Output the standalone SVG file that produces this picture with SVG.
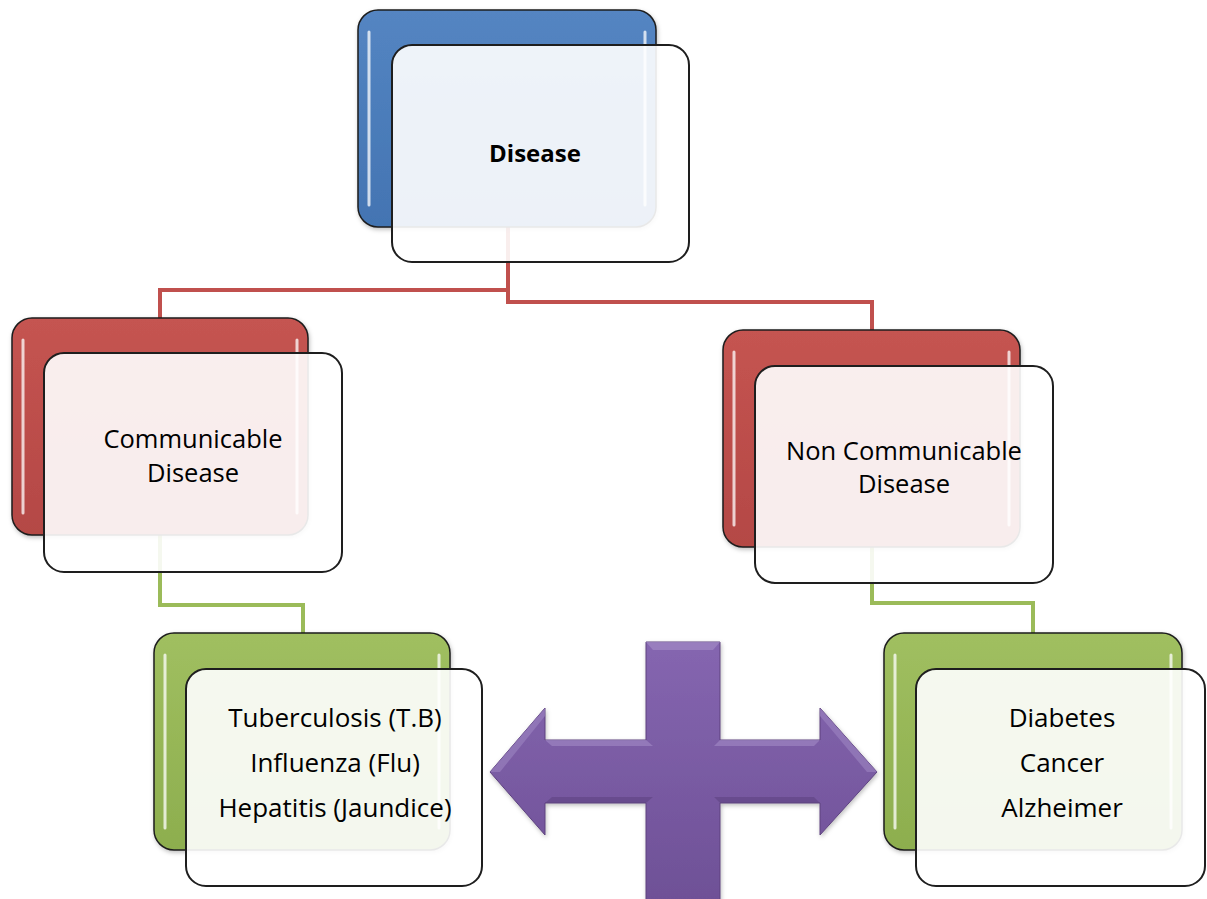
<svg xmlns="http://www.w3.org/2000/svg" width="1207" height="899" viewBox="0 0 1207 899">
<defs>
<linearGradient id="gBlue" x1="0" y1="0" x2="0" y2="1"><stop offset="0" stop-color="#5485c2"/><stop offset="1" stop-color="#4374b2"/></linearGradient>
<linearGradient id="gRed" x1="0" y1="0" x2="0" y2="1"><stop offset="0" stop-color="#c55451"/><stop offset="1" stop-color="#b44845"/></linearGradient>
<linearGradient id="gGreen" x1="0" y1="0" x2="0" y2="1"><stop offset="0" stop-color="#a0bf60"/><stop offset="1" stop-color="#8dae4e"/></linearGradient>
<linearGradient id="gPurple" x1="0" y1="0" x2="0" y2="1"><stop offset="0" stop-color="#8566b0"/><stop offset="1" stop-color="#6e5096"/></linearGradient>
<filter id="sh" x="-10%" y="-10%" width="120%" height="120%"><feDropShadow dx="1" dy="2" stdDeviation="2" flood-color="#000" flood-opacity="0.25"/></filter>
</defs>
<style>
.back{stroke:#1e1e1e;stroke-width:1.5}
.front{fill:#ffffff;fill-opacity:0.9;stroke:#1e1e1e;stroke-width:2}
.hl{stroke:#ffffff;stroke-opacity:0.75;stroke-width:3;stroke-linecap:round;fill:none}
.red{fill:none;stroke:#c0504d;stroke-width:4}
.grn{fill:none;stroke:#9bbb59;stroke-width:4}
.t{font-family:"Open Sans","Liberation Sans",sans-serif;fill:#000;text-anchor:middle}
.tb{font-weight:bold;font-size:24px}
.tm{font-size:25.5px}
.ts{font-size:26px}
</style>
<rect width="1207" height="899" fill="#ffffff"/>
<g id="connectors">
<path class="red" d="M508,227 V290 H160 V318"/>
<path class="red" d="M508,227 V302 H872 V330"/>
<path class="grn" d="M160,535 V605 H303 V633"/>
<path class="grn" d="M872,547 V603 H1033 V633"/>
</g>
<g id="disease">
<rect class="back" x="358" y="10" width="298" height="217" rx="20" fill="url(#gBlue)" filter="url(#sh)"/>
<line class="hl" x1="369" y1="32" x2="369" y2="205"/>
<line class="hl" x1="645" y1="32" x2="645" y2="205"/>
<rect class="front" x="392" y="45" width="297" height="217" rx="20"/>
<text class="t tb" x="535" y="162">Disease</text>
</g>
<g id="communicable">
<rect class="back" x="12" y="318" width="296" height="217" rx="20" fill="url(#gRed)" filter="url(#sh)"/>
<line class="hl" x1="23" y1="340" x2="23" y2="513"/>
<line class="hl" x1="297" y1="340" x2="297" y2="513"/>
<rect class="front" x="44" y="353" width="298" height="219" rx="20"/>
<text class="t tm" x="193" y="448">Communicable</text>
<text class="t tm" x="193" y="482">Disease</text>
</g>
<g id="noncommunicable">
<rect class="back" x="723" y="330" width="297" height="217" rx="20" fill="url(#gRed)" filter="url(#sh)"/>
<line class="hl" x1="734" y1="352" x2="734" y2="525"/>
<line class="hl" x1="1009" y1="352" x2="1009" y2="525"/>
<rect class="front" x="755" y="366" width="298" height="217" rx="20"/>
<text class="t tm" x="904" y="460">Non Communicable</text>
<text class="t tm" x="904" y="493">Disease</text>
</g>
<g id="communicable-list">
<rect class="back" x="154" y="633" width="296" height="217" rx="20" fill="url(#gGreen)" filter="url(#sh)"/>
<line class="hl" x1="165" y1="655" x2="165" y2="828"/>
<line class="hl" x1="439" y1="655" x2="439" y2="828"/>
<rect class="front" x="186" y="669" width="296" height="217" rx="20"/>
<text class="t ts" x="335" y="727">Tuberculosis (T.B)</text>
<text class="t ts" x="335" y="772">Influenza (Flu)</text>
<text class="t ts" x="335" y="817">Hepatitis (Jaundice)</text>
</g>
<g id="noncommunicable-list">
<rect class="back" x="884" y="633" width="298" height="217" rx="20" fill="url(#gGreen)" filter="url(#sh)"/>
<line class="hl" x1="895" y1="655" x2="895" y2="828"/>
<line class="hl" x1="1171" y1="655" x2="1171" y2="828"/>
<rect class="front" x="916" y="669" width="289" height="217" rx="20"/>
<text class="t ts" x="1062" y="727">Diabetes</text>
<text class="t ts" x="1062" y="772">Cancer</text>
<text class="t ts" x="1062" y="817">Alzheimer</text>
</g>
<g id="cross" filter="url(#sh)">
<path d="M490,772 L545,708 L545,740 L646,740 L646,642 L720,642 L720,740 L820,740 L820,708 L877,772 L820,835 L820,803 L720,803 L720,905 L646,905 L646,803 L545,803 L545,835 Z" fill="url(#gPurple)" stroke="#5e437f" stroke-width="1"/>
<path d="M646,642 L720,642 L713,650 L653,650 Z" fill="#9d84c2" opacity="0.8"/>
<path d="M545,740 L646,740 L653,746 L552,746 Z" fill="#9d84c2" opacity="0.7"/>
<path d="M720,740 L820,740 L814,746 L714,746 Z" fill="#9d84c2" opacity="0.7"/>
<path d="M545,803 L646,803 L653,797 L552,797 Z" fill="#5a3f7c" opacity="0.5"/>
<path d="M720,803 L820,803 L814,797 L714,797 Z" fill="#5a3f7c" opacity="0.5"/>
<path d="M490,772 L545,708 L545,716 L500,772 Z" fill="#9d84c2" opacity="0.6"/>
<path d="M877,772 L820,708 L820,716 L867,772 Z" fill="#9d84c2" opacity="0.6"/>
</g>
</svg>
